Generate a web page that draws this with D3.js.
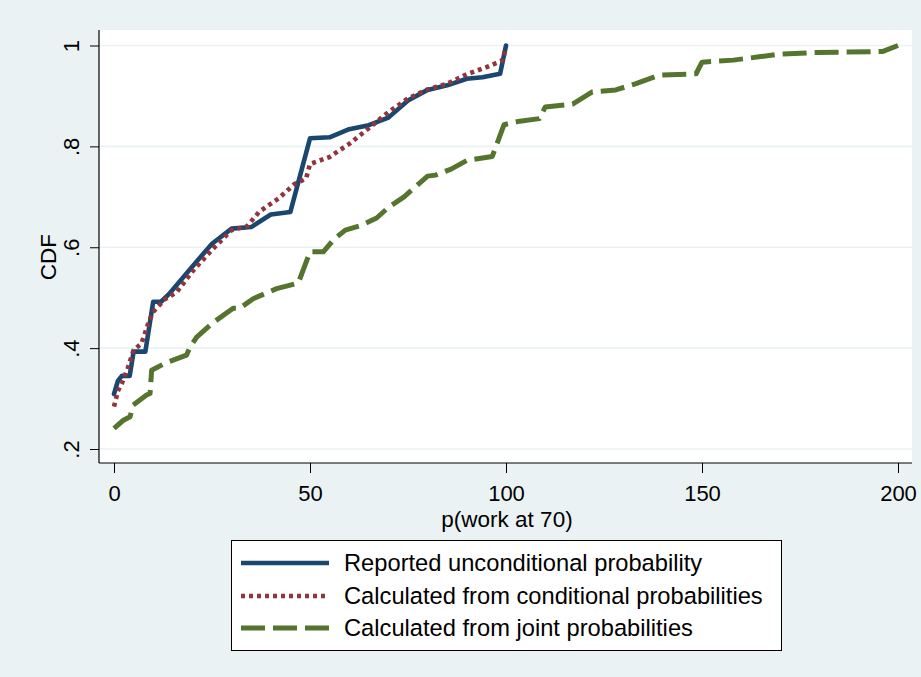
<!DOCTYPE html>
<html><head><meta charset="utf-8">
<script src="https://cdn.jsdelivr.net/npm/d3@7"></script>
<style>
html,body{margin:0;padding:0;background:#eaf2f3;}
svg{display:block;}
text{font-family:Arial,"Liberation Sans",sans-serif;fill:#000;}
</style></head>
<body>
<svg id="chart" width="921" height="677"></svg>
<script>
// ---- data ----
const reportedX = [0,1,2,4,5,8,10,12,14,20,25,30,35,40,45,50,55,60,65,70,75,80,85,90,94,98.5,100];
const reportedY = [0.309,0.335,0.345,0.345,0.393,0.393,0.492,0.492,0.507,0.562,0.607,0.637,0.640,0.665,0.670,0.816,0.818,0.834,0.842,0.857,0.891,0.912,0.921,0.934,0.937,0.944,1.0];

const conditionalX = [0,1,2,3.5,5,7,9,10,13,16,20,25,30,34,37,42,46,49,50,55,60,65,70,75,80,85,90,95,99,100];
const conditionalY = [0.284,0.315,0.330,0.360,0.396,0.409,0.455,0.472,0.497,0.511,0.552,0.595,0.634,0.642,0.670,0.697,0.725,0.736,0.765,0.779,0.805,0.836,0.868,0.895,0.913,0.924,0.943,0.957,0.970,0.994];

const jointX = [0,2.4,4.1,4.9,8.3,9.2,9.6,13,18.5,19.4,21.1,25,30.4,32.1,35.5,41.5,47,50,53.4,56,59,63,67,70,74,80,82,86,90,96.5,99.5,103.5,108.5,110,117,122,128,133,139,148.5,150,158,165,170,179,196,200];
const jointY = [0.241,0.257,0.264,0.287,0.307,0.310,0.356,0.370,0.386,0.402,0.422,0.449,0.479,0.479,0.498,0.518,0.529,0.591,0.591,0.615,0.634,0.643,0.658,0.679,0.700,0.741,0.743,0.755,0.772,0.780,0.843,0.850,0.855,0.878,0.884,0.908,0.912,0.924,0.941,0.944,0.967,0.971,0.978,0.983,0.986,0.988,1.0];

const xTicks = [0,50,100,150,200];
const yTicks = [0.2,0.4,0.6,0.8,1];
const yTickLabels = [".2",".4",".6",".8","1"];
const seriesNames = ["Reported unconditional probability","Calculated from conditional probabilities","Calculated from joint probabilities"];
const xTitle = "p(work at 70)";
const yTitle = "CDF";

// ---- layout ----
const svg = d3.select("#chart");
const plot = {left:99, right:912, top:30, bottom:463};
const x = d3.scaleLinear().domain([0,200]).range([114,898]);
const y = d3.scaleLinear().domain([0.2,1]).range([449,45.5]);

const colors = ["#1a476f","#90353b","#55752f"];
const dashes = [null,"4,4","24,8"];
const widths = [4.6,4.6,5];

svg.append("rect").attr("x",0).attr("y",0).attr("width",921).attr("height",677).attr("fill","#eaf2f3");
svg.append("rect").attr("x",plot.left).attr("y",plot.top)
  .attr("width",plot.right-plot.left).attr("height",plot.bottom-plot.top).attr("fill","#fff");

// gridlines
svg.append("g").selectAll("line").data(yTicks).join("line")
  .attr("x1",plot.left).attr("x2",plot.right)
  .attr("y1",d=>y(d)).attr("y2",d=>y(d))
  .attr("stroke","#eaf2f3").attr("stroke-width",1.6);

// axes
const yAxis = d3.axisLeft(y).tickValues(yTicks).tickSize(9).tickFormat((d,i)=>yTickLabels[i]);
const gy = svg.append("g").attr("transform",`translate(${plot.left},0)`).call(yAxis);
gy.select(".domain").attr("d",`M0,${plot.top}V${plot.bottom}`).attr("stroke","#000").attr("stroke-width",1.2);
gy.selectAll(".tick line").attr("stroke","#000").attr("stroke-width",1);
gy.selectAll(".tick text").attr("font-size",22).attr("text-anchor","middle")
  .attr("x",null).attr("dy",null)
  .attr("transform","translate(-20,0) rotate(-90)")
  .attr("y",0).attr("font-family","Arial, 'Liberation Sans', sans-serif");

const xAxis = d3.axisBottom(x).tickValues(xTicks).tickSize(10).tickFormat(d3.format("d"));
const gx = svg.append("g").attr("transform",`translate(0,${plot.bottom})`).call(xAxis);
gx.select(".domain").attr("d",`M${plot.left},0H${plot.right}`).attr("stroke","#000").attr("stroke-width",1.2);
gx.selectAll(".tick line").attr("stroke","#000").attr("stroke-width",1);
gx.selectAll(".tick text").attr("font-size",22).attr("dy",null).attr("y",38)
  .attr("font-family","Arial, 'Liberation Sans', sans-serif");

// axis titles
svg.append("text").attr("x",507).attr("y",526.5).attr("text-anchor","middle").attr("font-size",22.5).text(xTitle);
svg.append("text").attr("transform","translate(56,257) rotate(-90)").attr("text-anchor","middle").attr("font-size",22.5).text(yTitle);

// lines
const series = [
  reportedX.map((d,i)=>[d,reportedY[i]]),
  conditionalX.map((d,i)=>[d,conditionalY[i]]),
  jointX.map((d,i)=>[d,jointY[i]])
];
const line = d3.line().x(d=>x(d[0])).y(d=>y(d[1]));
series.forEach((s,i)=>{
  svg.append("path").datum(s).attr("d",line).attr("fill","none")
    .attr("stroke",colors[i]).attr("stroke-width",widths[i])
    .attr("stroke-dasharray",dashes[i]).attr("stroke-linejoin","round")
    .attr("stroke-linecap", i===0 ? "round" : "butt");
});

// legend
const lg = svg.append("g");
lg.append("rect").attr("x",231.5).attr("y",540.5).attr("width",550).attr("height",110)
  .attr("fill","#fff").attr("stroke","#000").attr("stroke-width",1);
const rowY = [563,596,628];
seriesNames.forEach((n,i)=>{
  lg.append("line").attr("x1",241).attr("x2",329).attr("y1",rowY[i]).attr("y2",rowY[i])
    .attr("stroke",colors[i]).attr("stroke-width",widths[i]).attr("stroke-dasharray",dashes[i]);
  lg.append("text").attr("x",344).attr("y",rowY[i]+8).attr("font-size",23.7).text(n);
});
</script>
</body></html>
